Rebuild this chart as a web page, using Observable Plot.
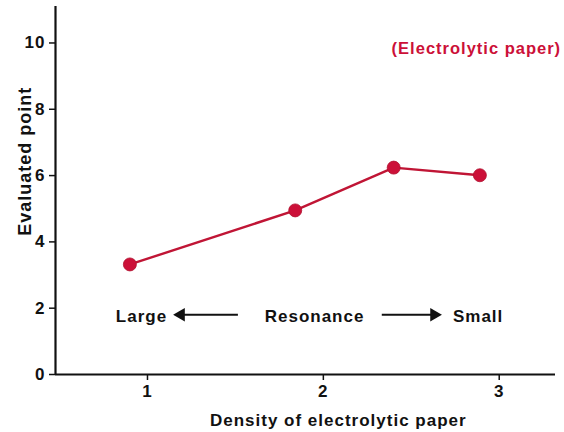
<!DOCTYPE html>
<html>
<head>
<meta charset="utf-8">
<script src="https://cdn.jsdelivr.net/npm/d3@7"></script>
<script src="https://cdn.jsdelivr.net/npm/@observablehq/plot@0.6"></script>
<style>
  html, body { margin: 0; padding: 0; background: #fff; }
  svg text { letter-spacing: 1px; }
  g[aria-label$="tick label"] { font-size: 17px; font-weight: bold; }
</style>
</head>
<body>
<div id="chart"></div>
<script>
const density = [0.9, 1.84, 2.4, 2.89];
const evaluated = [3.32, 4.95, 6.24, 6.01];
const xTicks = [1, 2, 3];
const yTicks = [0, 2, 4, 6, 8, 10];
const xLabel = "Density of electrolytic paper";
const yLabel = "Evaluated point";
const seriesLabel = "(Electrolytic paper)";
const notes = ["Large", "Resonance", "Small"];
const noteX = [0.966, 1.95, 2.88];
const noteY = [1.76, 1.76, 1.76];
const arrowFrom = [1.517, 2.335];
const arrowTo = [1.19, 2.63];
const arrowDir = [-90, 90];

const data = density.map((d, i) => ({x: d, y: evaluated[i]}));
const noteData = notes.map((t, i) => ({t, x: noteX[i], y: noteY[i]}));
const arrowData = arrowFrom.map((a, i) => ({x1: a, x2: arrowTo[i], y: noteY[0] + 0.04, rot: arrowDir[i]}));
const red = "#cc1038";

const chart = Plot.plot({
  width: 564,
  height: 432,
  marginLeft: 55,
  marginRight: 9,
  marginTop: 6,
  marginBottom: 58,
  x: {domain: [0.477, 3.32]},
  y: {domain: [0, 11.1]},
  style: {fontFamily: "Liberation Sans, Arial, sans-serif", fontSize: "17px", fontWeight: "bold", overflow: "visible", color: "#111"},
  marks: [
    Plot.axisX(xTicks, {tickSize: 6, tickPadding: 4, tickFormat: "d", label: null, strokeWidth: 1.5}),
    Plot.axisY(yTicks, {tickSize: 6, tickPadding: 4, tickFormat: "d", label: null, strokeWidth: 1.5}),
    Plot.ruleY([0], {stroke: "#111", strokeWidth: 2.2}),
    Plot.ruleX([0.477], {stroke: "#111", strokeWidth: 2.2}),
    Plot.line(data, {x: "x", y: "y", stroke: "#c01535", strokeWidth: 2.4}),
    Plot.dot(data, {x: "x", y: "y", r: 6.5, fill: red, stroke: "#b0102f", strokeWidth: 0.8}),
    Plot.text(noteData, {x: "x", y: "y", text: "t", fontSize: 17, fontWeight: "bold", fill: "#111"}),
    Plot.ruleY(arrowData, {x1: "x1", x2: "x2", y: "y", stroke: "#111", strokeWidth: 2}),
    Plot.dot(arrowData, {x: "x2", y: "y", symbol: "triangle", rotate: "rot", r: 5, fill: "#111", stroke: "none"}),
    Plot.text([seriesLabel], {x: 2.87, y: 9.82, text: d => d, fontSize: 16.5, fontWeight: "bold", fill: red}),
    Plot.text([yLabel], {frameAnchor: "left", textAnchor: "middle", y: 6.43, dx: -30, rotate: -90, text: d => d, fontSize: 18, fontWeight: "bold", fill: "#111"}),
    Plot.text([xLabel], {frameAnchor: "bottom", x: 2.085, dy: 51, text: d => d, fontSize: 17, fontWeight: "bold", fill: "#111"})
  ]
});
document.getElementById("chart").appendChild(chart);
</script>
</body>
</html>
